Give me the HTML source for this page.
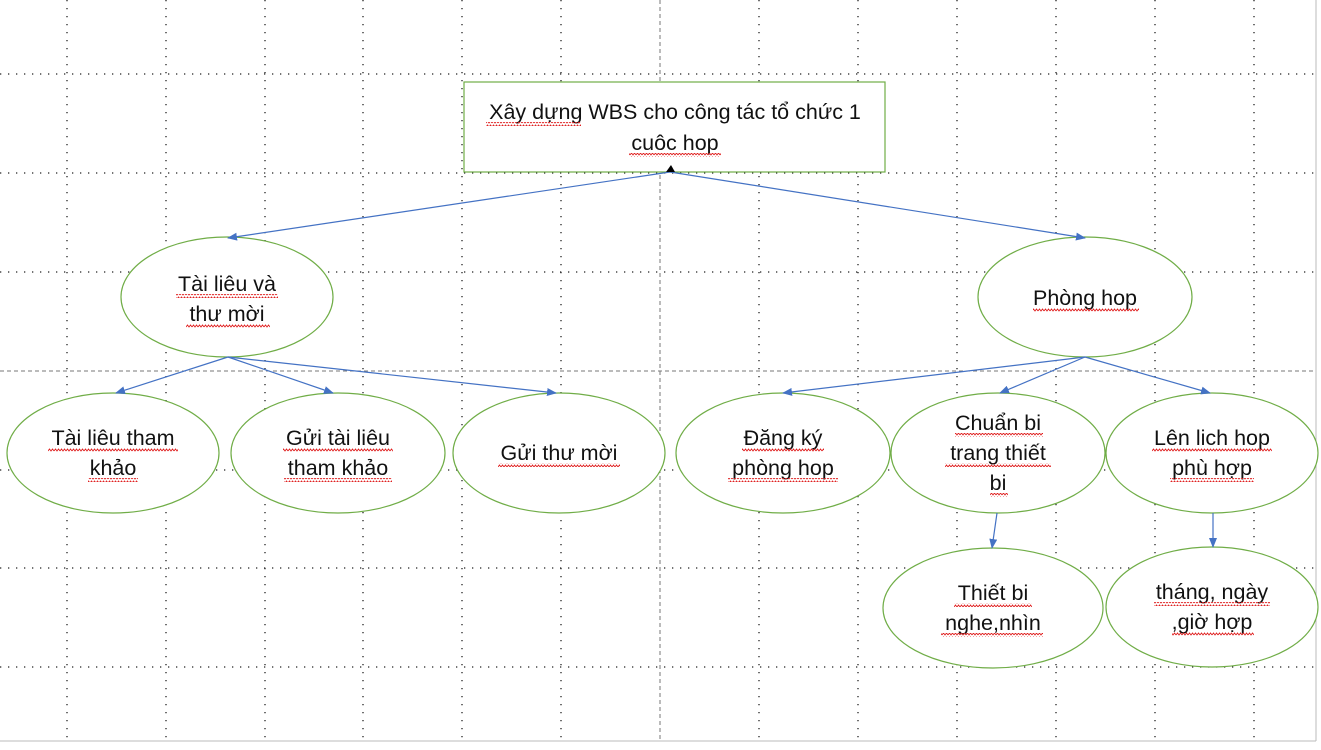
<!DOCTYPE html>
<html><head><meta charset="utf-8"><style>
body{margin:0;background:#fff;}
svg text{font-family:"Liberation Sans",sans-serif;font-size:21.5px;fill:#111;}
</style></head><body>
<svg width="1321" height="745" viewBox="0 0 1321 745" xmlns="http://www.w3.org/2000/svg">
<defs>
<marker id="a" markerWidth="10" markerHeight="8" refX="9" refY="4" orient="auto" markerUnits="userSpaceOnUse"><path d="M0,0 L10,4 L0,8 z" fill="#4472c4"/></marker>
<pattern id="w" width="6" height="4" patternUnits="userSpaceOnUse"><path d="M0,3 L1.5,1 L3,3 L4.5,1 L6,3" stroke="#e02020" stroke-width="0.9" fill="none"/></pattern>
</defs>
<g stroke="#222" stroke-width="1.3" stroke-dasharray="1.3 6.7">
<line x1="0" y1="74" x2="1316" y2="74"/><line x1="0" y1="173" x2="1316" y2="173"/><line x1="0" y1="272" x2="1316" y2="272"/>
<line x1="0" y1="470" x2="1316" y2="470"/><line x1="0" y1="568" x2="1316" y2="568"/><line x1="0" y1="667" x2="1316" y2="667"/>
<line x1="67" y1="0" x2="67" y2="740"/><line x1="166" y1="0" x2="166" y2="740"/><line x1="265" y1="0" x2="265" y2="740"/><line x1="363" y1="0" x2="363" y2="740"/><line x1="462" y1="0" x2="462" y2="740"/><line x1="561" y1="0" x2="561" y2="740"/>
<line x1="759" y1="0" x2="759" y2="740"/><line x1="858" y1="0" x2="858" y2="740"/><line x1="957" y1="0" x2="957" y2="740"/><line x1="1056" y1="0" x2="1056" y2="740"/><line x1="1155" y1="0" x2="1155" y2="740"/><line x1="1254" y1="0" x2="1254" y2="740"/>
</g>
<g stroke="#777" stroke-width="1" stroke-dasharray="4 3">
<line x1="0" y1="371" x2="1316" y2="371"/><line x1="660" y1="0" x2="660" y2="740"/>
</g>
<line x1="0" y1="741" x2="1316" y2="741" stroke="#bbb"/><line x1="1316" y1="0" x2="1316" y2="741" stroke="#bbb"/>
<g fill="#fff" stroke="#70ad47" stroke-width="1.2">
<rect x="464" y="82" width="421" height="90"/>
<ellipse cx="227" cy="297" rx="106" ry="60"/><ellipse cx="1085" cy="297" rx="107" ry="60"/>
<ellipse cx="113" cy="453" rx="106" ry="60"/><ellipse cx="338" cy="453" rx="107" ry="60"/><ellipse cx="559" cy="453" rx="106" ry="60"/>
<ellipse cx="783" cy="453" rx="107" ry="60"/><ellipse cx="998" cy="453" rx="107" ry="60"/><ellipse cx="1212" cy="453" rx="106" ry="60"/>
<ellipse cx="993" cy="608" rx="110" ry="60"/><ellipse cx="1212" cy="607" rx="106" ry="60"/>
</g>
<g stroke="#4472c4" stroke-width="1.2" marker-end="url(#a)">
<line x1="670" y1="172" x2="228" y2="238"/><line x1="670" y1="172" x2="1085" y2="238"/>
<line x1="228" y1="357" x2="116" y2="393"/><line x1="228" y1="357" x2="333" y2="393"/><line x1="228" y1="357" x2="556" y2="393"/>
<line x1="1085" y1="357" x2="783" y2="393"/><line x1="1085" y1="357" x2="1000" y2="393"/><line x1="1085" y1="357" x2="1210" y2="393"/>
<line x1="997" y1="513" x2="992" y2="548"/><line x1="1213" y1="513" x2="1213" y2="547"/>
</g>
<path d="M666,172 L671,165 L675,172 z" fill="#000"/>
<g text-anchor="middle">
<text x="675" y="119">Xây dựng WBS cho công tác tổ chức 1</text><text x="675" y="150">cuôc hop</text>
<text x="227" y="291">Tài liêu và</text><text x="227" y="321">thư mời</text>
<text x="1085" y="305">Phòng hop</text>
<text x="113" y="445">Tài liêu tham</text><text x="113" y="475">khảo</text>
<text x="338" y="445">Gửi tài liêu</text><text x="338" y="475">tham khảo</text>
<text x="559" y="460">Gửi thư mời</text>
<text x="783" y="445">Đăng ký</text><text x="783" y="475">phòng hop</text>
<text x="998" y="430">Chuẩn bi</text><text x="998" y="460">trang thiết</text><text x="998" y="490">bi</text>
<text x="1212" y="445">Lên lich hop</text><text x="1212" y="475">phù hợp</text>
<text x="993" y="600">Thiết bi</text><text x="993" y="630">nghe,nhìn</text>
<text x="1212" y="599">tháng, ngày</text><text x="1212" y="629">,giờ hợp</text>
</g>
<g fill="url(#w)">
<rect x="486" y="122" width="95" height="4"/><rect x="629" y="153" width="92" height="4"/>
<rect x="176" y="294" width="102" height="4"/><rect x="186" y="324" width="84" height="4"/>
<rect x="1033" y="308" width="106" height="4"/>
<rect x="48" y="448" width="130" height="4"/><rect x="88" y="478" width="50" height="4"/>
<rect x="283" y="448" width="110" height="4"/><rect x="284" y="478" width="108" height="4"/>
<rect x="498" y="463" width="122" height="4"/>
<rect x="742" y="448" width="82" height="4"/><rect x="728" y="478" width="110" height="4"/>
<rect x="955" y="433" width="88" height="4"/><rect x="945" y="463" width="106" height="4"/><rect x="990" y="493" width="18" height="4"/>
<rect x="1152" y="448" width="120" height="4"/><rect x="1170" y="478" width="84" height="4"/>
<rect x="954" y="603" width="78" height="4"/><rect x="941" y="633" width="102" height="4"/>
<rect x="1154" y="602" width="116" height="4"/><rect x="1172" y="632" width="82" height="4"/>
</g>
</svg>
</body></html>
